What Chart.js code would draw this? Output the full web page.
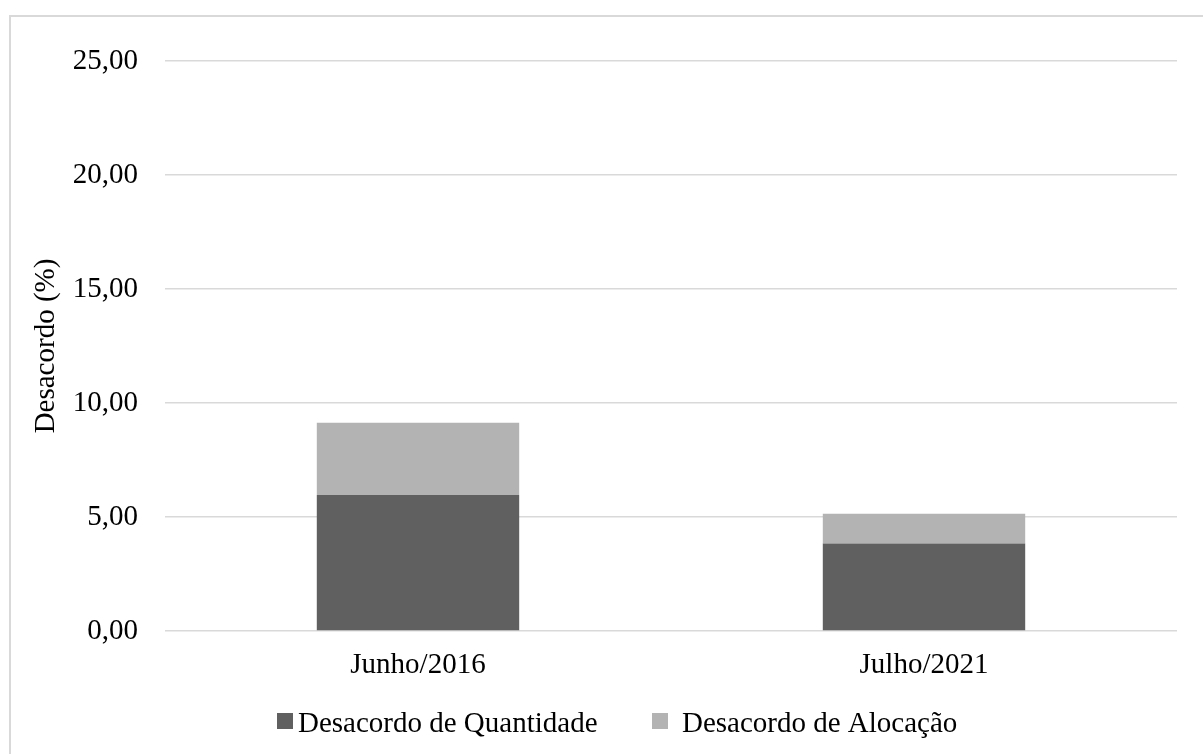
<!DOCTYPE html>
<html>
<head>
<meta charset="utf-8">
<script src="https://cdn.jsdelivr.net/npm/chart.js@4.4.1/dist/chart.umd.min.js"></script>
<style>
  html, body { margin: 0; padding: 0; background: #fff; }
  #wrap { position: relative; width: 1203px; height: 754px; overflow: hidden; }
  #frame { position: absolute; left: 9px; top: 15px; width: 1250px; height: 800px;
           border: 2px solid #d9d9d9; box-sizing: border-box; pointer-events: none; }
  canvas { position: absolute; left: 0; top: 0; }
</style>
</head>
<body>
<div id="wrap">
  <canvas id="c" width="1203" height="754"></canvas>
  <div id="frame"></div>
</div>
<script>
// Periods compared
const categories = ['Junho/2016', 'Julho/2021'];
// Disagreement components (%)
const desacordoQuantidade = [5.96, 3.84];
const desacordoAlocacao = [3.17, 1.30];
// Y axis range
const yMin = 0, yMax = 25, yStep = 5;
const yTitle = 'Desacordo (%)';

const serif = 'Liberation Serif, Times New Roman, serif';
const fmt = v => v.toFixed(2).replace('.', ',');

// Legend drawn along the bottom edge, below the category labels
const bottomLegend = {
  id: 'bottomLegend',
  afterDraw(chart) {
    const ctx = chart.ctx;
    const squareX = [277, 652];
    const textX = [298, 682];
    const size = 16, top = 713, baseline = 732;
    ctx.save();
    ctx.font = '29px ' + serif;
    ctx.textBaseline = 'alphabetic';
    ctx.textAlign = 'left';
    chart.data.datasets.forEach((ds, i) => {
      ctx.fillStyle = ds.backgroundColor;
      ctx.fillRect(squareX[i], top, size, size);
      ctx.fillStyle = '#000';
      ctx.fillText(ds.label, textX[i], baseline);
    });
    ctx.restore();
  }
};

const whiteBg = {
  id: 'whiteBg',
  beforeDraw(chart) {
    const ctx = chart.ctx;
    ctx.save();
    ctx.fillStyle = '#fff';
    ctx.fillRect(0, 0, chart.width, chart.height);
    ctx.restore();
  }
};

new Chart(document.getElementById('c'), {
  type: 'bar',
  data: {
    labels: categories,
    datasets: [
      { label: 'Desacordo de Quantidade', data: desacordoQuantidade,
        backgroundColor: '#606060', borderWidth: 0 },
      { label: 'Desacordo de Alocação', data: desacordoAlocacao,
        backgroundColor: '#b3b3b3', borderWidth: 0 }
    ]
  },
  options: {
    responsive: false,
    animation: false,
    devicePixelRatio: 1,
    layout: { padding: { left: 0, top: 61, right: 26, bottom: 0 } },
    datasets: { bar: { categoryPercentage: 1, barPercentage: 0.4 } },
    plugins: {
      legend: { display: false },
      tooltip: { enabled: false }
    },
    scales: {
      x: {
        stacked: true,
        grid: { display: false, drawTicks: false },
        border: { display: false },
        ticks: { font: { family: serif, size: 29 }, color: '#000', padding: 17 },
        afterFit(scale) { scale.height = 123; }
      },
      y: {
        stacked: true,
        min: yMin, max: yMax,
        grid: { color: '#d9d9d9', lineWidth: 1.5, drawTicks: false },
        border: { display: false },
        ticks: {
          stepSize: yStep,
          font: { family: serif, size: 29 }, color: '#000', padding: 27,
          callback: v => fmt(v)
        },
        title: {
          display: true, text: yTitle, color: '#000',
          font: { family: serif, size: 29 },
          padding: { top: 29, bottom: 0 }
        },
        afterFit(scale) { scale.width = 165; }
      }
    }
  },
  plugins: [whiteBg, bottomLegend]
});
</script>
</body>
</html>
